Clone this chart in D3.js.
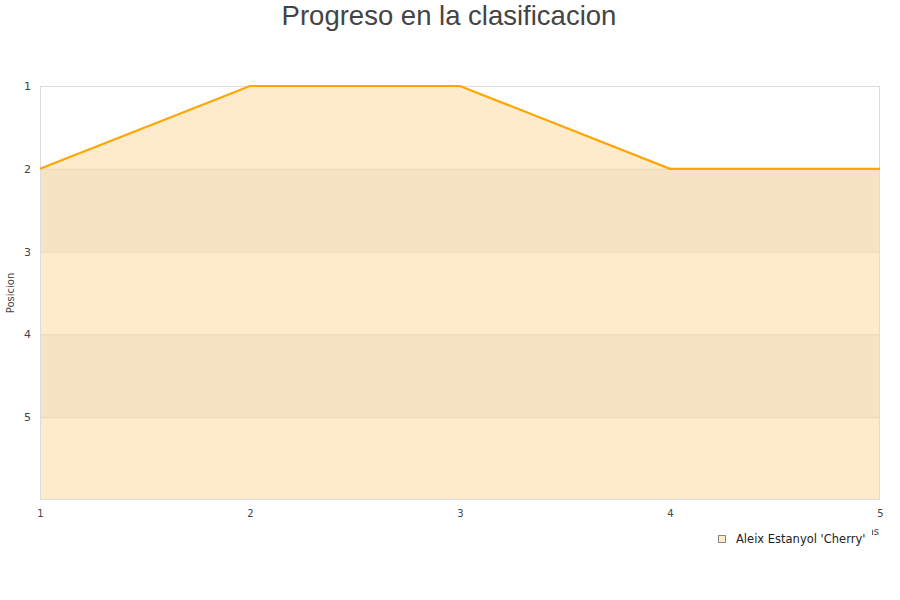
<!DOCTYPE html>
<html><head><meta charset="utf-8">
<script src="https://cdn.jsdelivr.net/npm/d3@7"></script>
<style>body{margin:0;background:#fff}</style>
</head><body>
<svg id="c" width="900" height="600"></svg>
<script>
const jornadas = [1, 2, 3, 4, 5];
const posiciones = [2, 1, 1, 2, 2];
const yTicks = [1, 2, 3, 4, 5];
const serieName = "Aleix Estanyol 'Cherry'";
const titleText = "Progreso en la clasificacion";

const svg = d3.select("#c");
const m = {l: 40, r: 880, t: 86, b: 500};
const x = d3.scaleLinear().domain([1, 5]).range([m.l, m.r]);
const y = d3.scaleLinear().domain([1, 6]).range([m.t, m.b]);
const data = jornadas.map((j, i) => ({j, p: posiciones[i]}));

svg.append("text").attr("x", 449).attr("y", 25).attr("text-anchor", "middle")
  .attr("font-family", "Liberation Sans, Arial, sans-serif").attr("font-size", 27.5)
  .attr("fill", "#444").text(titleText);

// area
svg.append("path").datum(data)
  .attr("d", d3.area().x(d => x(d.j)).y0(y(6)).y1(d => y(d.p)))
  .attr("fill", "#feebcc");

// darker bands
[[2, 3], [4, 5]].forEach(([a, b]) => {
  svg.append("rect").attr("x", m.l).attr("width", m.r - m.l)
    .attr("y", y(a)).attr("height", y(b) - y(a)).attr("fill", "#f5e3c3");
});
// grid lines
yTicks.slice(1).forEach(t => {
  svg.append("line").attr("x1", m.l).attr("x2", m.r).attr("y1", y(t) + 0.5).attr("y2", y(t) + 0.5)
    .attr("stroke", "#ead8b6").attr("stroke-width", 1);
});

// border
svg.append("rect").attr("x", m.l + 0.5).attr("y", m.t + 0.5).attr("width", m.r - m.l - 1)
  .attr("height", m.b - m.t - 1).attr("fill", "none").attr("stroke", "#dcdcdc");

// line
svg.append("path").datum(data)
  .attr("d", d3.line().x(d => x(d.j)).y(d => y(d.p)))
  .attr("fill", "none").attr("stroke", "#ffa500").attr("stroke-width", 2.2);

const font = "DejaVu Sans, Verdana, sans-serif";
// y axis labels
const ya = svg.append("g").attr("transform", `translate(${m.l},0)`)
  .call(d3.axisLeft(y).tickValues(yTicks).tickFormat(d3.format("d")).tickSize(0).tickPadding(9));
ya.select(".domain").remove();
ya.selectAll("text").attr("font-family", font).attr("font-size", 11).attr("fill", "#444");

// x axis labels
const xa = svg.append("g").attr("transform", `translate(0,${m.b})`)
  .call(d3.axisBottom(x).tickValues(jornadas).tickFormat(d3.format("d")).tickSize(0).tickPadding(10));
xa.select(".domain").remove();
xa.selectAll("text").attr("font-family", font).attr("font-size", 10).attr("fill", "#444");

svg.append("text").attr("transform", "translate(14,293) rotate(-90)").attr("text-anchor", "middle")
  .attr("font-family", font).attr("font-size", 10).attr("fill", "#444").text("Posicion");

// axis title, mostly hidden behind the legend (as in the reference)
svg.append("clipPath").attr("id", "xt").append("rect").attr("x", 872).attr("y", 520).attr("width", 20).attr("height", 20);
svg.append("text").attr("x", 879).attr("y", 535).attr("text-anchor", "end").attr("clip-path", "url(#xt)")
  .attr("font-family", font).attr("font-size", 10).attr("fill", "#444").text("Jornadas");
svg.append("rect").attr("x", 718.5).attr("y", 535.5).attr("width", 7).attr("height", 7)
  .attr("fill", "#feebcc").attr("stroke", "#888");
svg.append("text").attr("x", 736).attr("y", 543).attr("font-family", font).attr("font-size", 11.5)
  .attr("fill", "#222").text(serieName);
</script>
</body></html>
